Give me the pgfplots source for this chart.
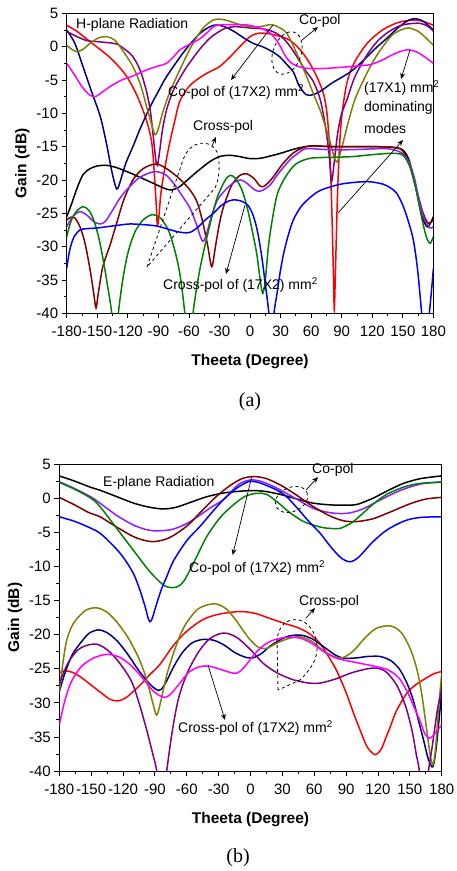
\documentclass[border=0pt]{standalone}
\usepackage{pgfplots}
\pgfplotsset{compat=1.18}
\usepackage{fontspec}
\setmainfont{Liberation Sans}
\newfontfamily\seriffont{Liberation Serif}
\usetikzlibrary{arrows.meta}

\definecolor{cred}{RGB}{255,0,0}
\definecolor{cnavy}{RGB}{0,0,128}
\definecolor{cpurple}{RGB}{128,0,128}
\definecolor{colive}{RGB}{128,128,0}
\definecolor{cmag}{RGB}{255,0,255}
\definecolor{cmaroon}{RGB}{128,0,0}
\definecolor{cviolet}{RGB}{140,30,255}
\definecolor{cgreen}{RGB}{0,128,0}
\definecolor{cblue}{RGB}{0,0,255}

\pgfplotsset{
  myaxis/.style={
    scale only axis,
    xmin=-180, xmax=180, ymin=-40, ymax=5,
    xtick={-180,-150,...,180}, ytick={-40,-35,...,5},
    minor x tick num=1, minor y tick num=1,
    tick align=outside, tick pos=left,
    major tick length=5pt, minor tick length=3pt,
    tick style={black, line width=0.8pt},
    axis line style={line width=0.8pt},
    clip mode=individual,
    /pgf/number format/assume math mode=true,
    tick label style={font=\fontsize{15}{17}\selectfont},
    xticklabel style={yshift=-4pt},
    label style={font=\bfseries\fontsize{15.5}{18}\selectfont},
    xlabel style={yshift=-11pt},
    xlabel={Theeta (Degree)}, ylabel={Gain (dB)},
  },
  cp/.style={smooth, line width=1.5pt},
}
\tikzset{ann/.style={font=\fontsize{14}{16}\selectfont, inner sep=0pt, anchor=west},
  arr/.style={-{Stealth[length=6pt,width=5pt]}, line width=0.7pt},
  dsh/.style={dashed, line width=0.8pt}}

\begin{document}
\begin{tikzpicture}
\path[use as bounding box] (0,0) rectangle (457pt,-871pt);

% ---------------- (a) H-plane ----------------
\begin{axis}[myaxis, at={(66.7pt,-313.3pt)}, anchor=south west, width=366.7pt, height=300pt]
% co-pol
\addplot[cp, cred] coordinates {(-180,3.2)(-170,2.3)(-160,1.1)(-150,-0.1)(-140,-1.3)(-130,-2.8)(-121,-4.5)(-112,-7)(-104,-10)(-99,-12.5)(-96,-15)(-94,-19)(-92,-24)(-91,-26.8)(-89.5,-25.5)(-87.5,-22)(-84,-18.5)(-79,-14.5)(-74,-11.2)(-69,-8.2)(-60,-6)(-49,-4.6)(-40,-3.8)(-30,-3)(-20,-1.6)(-10,0)(0,1.5)(8,2)(20,1.9)(36,1.2)(45,0.2)(52,-1)(59,-2.6)(65.5,-4.5)(72,-7)(75.5,-10)(78,-15)(80,-23)(82,-35)(82.7,-39.5)(83.8,-34)(85.5,-24)(87.5,-16)(90,-10.5)(95,-5.5)(102,-2.5)(115,0.5)(130,2.5)(145,3.6)(160,4)(170,3.8)(180,3.2)};
\addplot[cp, cnavy] coordinates {(-180,2.5)(-172,0.5)(-164,-3)(-155,-7)(-147,-10.5)(-141,-14.5)(-136,-18.5)(-132,-21)(-130,-21.3)(-127,-20)(-122,-17.5)(-115,-15)(-107,-12)(-98,-9)(-90,-6.7)(-82,-4.5)(-65,-0.8)(-49,2)(-36,3.2)(-25,3)(-15,2.2)(-6,1.3)(3,0.5)(12,0)(20,-0.6)(29,-1.5)(35,-2.5)(42.5,-3.8)(48,-5.8)(55,-7.2)(62,-7.2)(70,-6.6)(80,-5.5)(90,-4.6)(101,-3.5)(115,-1.5)(125,0)(134,1.2)(145,2.8)(155,3.9)(162,4.2)(170,3.8)(180,2.5)};
\addplot[cp, cpurple] coordinates {(-180,2.3)(-170,1.5)(-160,0.9)(-150,0.75)(-140,0.6)(-131,0.4)(-122,-0.5)(-115,-1.5)(-108,-3.5)(-102,-6.5)(-98,-9.5)(-95,-13.5)(-92.5,-17)(-91,-17.8)(-89,-16)(-86,-12.5)(-82,-9.5)(-76,-6.8)(-70,-5)(-62,-3)(-50,-0.5)(-40,1.2)(-33,2)(-25,2.7)(-15,3)(0,2.8)(10,2.7)(20,2.4)(30,1.6)(38,0.3)(46,-1.5)(54,-3.5)(62,-5.2)(69,-8)(74,-12)(77.5,-16)(80,-20.2)(82.5,-17.5)(86,-13)(90,-10)(95,-8)(103,-4.5)(115,-1.2)(125,0.8)(134,2)(145,3)(155,3.4)(167,3.5)(175,3)(180,2.3)};
\addplot[cp, colive] coordinates {(-180,0.2)(-175,-0.4)(-170,-0.75)(-164,-0.4)(-157,0.5)(-149,1.3)(-141,1.5)(-133,1)(-124,-0.8)(-115,-3)(-108,-5.5)(-101.5,-9)(-97,-11.5)(-93.3,-13.2)(-90,-12.3)(-86,-10)(-80,-7.3)(-75,-5.5)(-65,-2.2)(-56,0.5)(-46,2.8)(-36,4)(-28,4.1)(-20,3.8)(-10,3.3)(0,3)(10,3)(20,3.3)(27,3)(36,2)(45.8,-1)(55.6,-4.5)(62,-7)(68.7,-9.5)(74,-12)(78.5,-14.2)(82,-16.3)(85,-17.3)(88,-16.3)(92,-14)(97,-11)(104,-7.5)(118,-3)(128,-0.5)(140,1.8)(150,2.6)(156,2.8)(165,2.3)(172,1.4)(180,0.2)};
\addplot[cp, cmag] coordinates {(-180,-2.5)(-172,-4.3)(-165,-6)(-158,-7.2)(-152,-7.5)(-145,-6.8)(-137.5,-6)(-126,-5)(-115,-4.4)(-100,-3.4)(-90,-2.9)(-82,-2.5)(-75,-1.5)(-69,-0.5)(-60,0.3)(-49,1.2)(-40,2.4)(-36,3.0)(-28,3.3)(-18,3.3)(-3,3.25)(10,2.8)(20,2)(28,0.5)(35,-1.5)(42,-2.6)(50,-3.1)(60,-3.3)(75,-3.25)(90,-3.1)(105,-2.9)(118,-2.7)(130,-2.0)(140,-1.2)(150,-0.6)(157,-0.5)(165,-0.9)(172,-1.6)(180,-2.5)};
% cross-pol
\addplot[cp, black] coordinates {(-180,-25.5)(-175,-23.5)(-170,-21.3)(-164,-19.2)(-157,-18.3)(-150,-17.9)(-141,-17.8)(-132,-18.1)(-120,-18.8)(-108,-19.6)(-95,-20.5)(-85,-21.2)(-78,-21.5)(-70,-21.1)(-60,-19.8)(-52,-18.75)(-40,-17.3)(-30,-16.5)(-20,-16.3)(-10,-16.5)(0,-16.8)(10,-16.75)(20,-16.4)(30,-16)(45,-15.3)(60,-14.9)(80,-15)(100,-15)(120,-15)(140,-15.1)(150,-15.5)(156,-17)(162,-20.5)(168,-25)(173.5,-27)(177,-26.5)(180,-25.5)};
\addplot[cp, cmaroon] coordinates {(-180,-26)(-176,-25.6)(-172,-25.7)(-167,-27)(-162,-29.5)(-157,-33.5)(-153.5,-37)(-151.2,-39.2)(-149,-37)(-145,-33.3)(-141,-31.3)(-137.5,-29.8)(-131,-26.5)(-124,-23)(-115,-20)(-105,-18.3)(-92,-17.6)(-80,-18.5)(-68,-20)(-59,-21.5)(-52,-23.3)(-47,-26)(-42,-29.5)(-37.6,-33)(-34,-30)(-30,-26.5)(-26,-24)(-18,-20.8)(-10,-19.3)(-3,-19.1)(4,-19.8)(9,-20.8)(13,-21)(18,-20.4)(23,-19.5)(32,-17.6)(42,-16)(50,-15.3)(59,-14.9)(80,-15)(120,-15)(145,-15.2)(152,-16.2)(158,-18.5)(164,-21.8)(170,-25)(175,-26.5)(180,-26)};
\addplot[cp, cviolet] coordinates {(-180,-27)(-174,-25.5)(-167,-24.75)(-160,-25.3)(-153,-26.3)(-147,-26.6)(-142,-26.2)(-136,-24.8)(-128,-22.8)(-120,-21.3)(-110,-19.8)(-100,-19)(-92,-18.75)(-83,-19.2)(-75,-20.5)(-67,-22.3)(-59,-24.2)(-53,-26.5)(-48.5,-28.6)(-46,-29.2)(-43,-28.3)(-38,-25.5)(-32,-23)(-23,-21.3)(-15,-20.3)(-9,-20)(-3,-20.5)(3,-21.3)(8,-21.7)(13,-21.5)(20,-20.7)(28,-19)(39,-17)(48,-15.9)(55,-15.3)(70,-15.4)(85,-15.5)(110,-15.4)(134,-15.3)(147,-15.8)(155,-17)(161,-19.5)(166,-23)(171,-25.8)(176.5,-27.2)(180,-27)};
\addplot[cp, cgreen] coordinates {(-180,-28.5)(-176,-26.3)(-171,-24.8)(-164,-24)(-158,-24.6)(-153,-26.2)(-148,-29)(-143,-33)(-139,-36.7)(-135.8,-40)(-132.5,-46)(-129.3,-40)(-125,-35)(-120,-31)(-113,-27.8)(-105,-26)(-96,-25.2)(-88,-25.7)(-80,-27.6)(-74,-30.5)(-69,-34)(-64,-40)(-60,-47)(-56,-40)(-50,-34)(-43,-29)(-33,-23)(-25,-20.2)(-19.6,-19.3)(-14,-19.8)(-8,-21.5)(-3,-24)(2,-27.5)(6.5,-31)(10,-35)(12.5,-37)(15,-35)(18,-30)(22,-25.8)(27,-22)(35,-19.5)(45,-17.6)(59,-16.75)(80,-16.6)(100,-16.5)(120,-16.2)(140,-16)(150,-16.3)(157,-18)(163,-21.5)(169,-26)(173,-28.5)(176.7,-29.5)(180,-28.5)};
\addplot[cp, cblue] coordinates {(-180,-33.25)(-177,-30.5)(-173,-28.6)(-167,-27.5)(-160,-27.3)(-150,-27.2)(-140,-27)(-130,-26.8)(-118,-26.6)(-105,-26.7)(-92,-26.9)(-80,-27.4)(-70,-27.8)(-60,-27.9)(-52,-27.2)(-44,-26)(-36,-25)(-28,-23.8)(-20,-23.1)(-14,-23)(-8,-23.2)(-2,-23.8)(3,-25.3)(7,-27.5)(11,-31)(14.5,-35)(18.5,-40)(21,-45)(23.5,-40)(26.5,-37)(29.4,-34)(33,-31)(37.5,-28.3)(42.5,-26)(50,-24)(60,-22.5)(70,-21.5)(90,-20.6)(114.5,-20.25)(130,-20.6)(138,-21.2)(144,-22)(150,-23.8)(155,-26)(160.3,-29)(164.5,-33.5)(168.5,-40)(172,-46)(176,-40)(178.2,-36.5)(180,-33.25)};
\end{axis}

% ---------------- (b) E-plane ----------------
\begin{axis}[myaxis, at={(59.3pt,-771pt)}, anchor=south west, width=382.4pt, height=306.7pt]
% co-pol
\addplot[cp, black] coordinates {(-180,3.3)(-165,2.5)(-150,1.6)(-141.7,1.2)(-125,0.2)(-110,-0.7)(-95,-1.3)(-82,-1.55)(-70,-1.3)(-55,-0.5)(-41,0.25)(-25,0.8)(-10,1.05)(2.7,1.15)(15,1)(30,0.5)(45,-0.15)(59,-0.7)(75,-0.95)(90,-1)(100,-0.9)(115,0)(130,1.2)(144,2.2)(160,2.9)(180,3.3)};
\addplot[cp, cviolet] coordinates {(-180,2.45)(-165,1.4)(-150,0.2)(-141.7,-0.7)(-125,-2.6)(-110.3,-3.9)(-100,-4.5)(-91.5,-4.75)(-80,-4.7)(-72.6,-4.5)(-60,-3.7)(-48,-2.5)(-37,-1.3)(-25.6,-0.2)(-17,1.2)(-9.8,2.2)(0,2.7)(10,2.5)(25,1.5)(40,0.2)(59,-1.45)(75,-2.1)(90.6,-2.2)(105,-1.6)(120,-0.4)(140,1.1)(160,2.1)(180,2.45)};
\addplot[cp, cmaroon] coordinates {(-180,0.15)(-165,-1.0)(-152,-2.1)(-141.7,-2.7)(-125,-4.3)(-110.3,-5.6)(-100,-6.15)(-91.5,-6.35)(-80,-6)(-70,-5.2)(-58,-3.8)(-45,-1.7)(-32,0.3)(-20,1.8)(-8,2.9)(2.7,3.2)(15,2.9)(30,1.8)(45,0.3)(59,-1.2)(75,-2.6)(88,-3.3)(100,-3.4)(115,-3)(130,-2.1)(150,-0.8)(165,-0.1)(180,0.15)};
\addplot[cp, cgreen] coordinates {(-180,2.35)(-165,1.3)(-150,0)(-141.7,-1.2)(-125,-4.6)(-110.3,-7.6)(-95,-10.7)(-82,-12.7)(-74,-13.1)(-68,-12.9)(-63,-12.2)(-56.9,-10.5)(-48,-7.7)(-41.2,-5.6)(-33,-3.7)(-25.6,-2.3)(-15,-0.8)(-5,0.3)(5.9,0.75)(15,0.6)(25,-0.5)(37.2,-2.1)(50,-3.4)(65.5,-4.2)(75,-4.4)(84.3,-4.4)(95,-3.6)(105,-2.3)(115,-0.9)(128.3,0.6)(145,1.7)(160,2.2)(180,2.35)};
\addplot[cp, cblue] coordinates {(-180,-2.7)(-165,-3.4)(-150,-4.4)(-141.7,-5.1)(-130,-6.8)(-120,-8.6)(-110.3,-11)(-104,-13.5)(-99,-16)(-96.5,-17.5)(-94.6,-18.1)(-92.5,-17.6)(-89,-15.8)(-84,-13.4)(-78.9,-11.5)(-72.6,-9.2)(-60,-6.2)(-47.5,-4.1)(-36,-2)(-25.6,-0.2)(-13,1.5)(-2,2.45)(6,2.4)(15,1.9)(25,1.2)(34,0.25)(45,-1.6)(55,-3.4)(65.5,-5.1)(75,-7)(85,-8.7)(93.7,-9.3)(102,-8.6)(115,-6.4)(128.3,-4.65)(145,-3.3)(159.6,-2.8)(180,-2.7)};
% cross-pol
\addplot[cp, cred] coordinates {(-180,-25.6)(-175,-25.3)(-168,-25.5)(-160,-26.2)(-150,-27.4)(-140,-28.6)(-132,-29.5)(-124.4,-29.7)(-116,-29.1)(-104,-27.4)(-95,-25.9)(-85,-24.3)(-72.7,-21.6)(-60,-19.5)(-45,-17.8)(-30,-17)(-10,-16.6)(5,-16.9)(21.5,-17.8)(35,-18.5)(43.5,-18.9)(55,-19.8)(65.6,-21.3)(75,-23.6)(81.2,-25.3)(90,-28.5)(97,-31.5)(103.2,-34)(110,-36.5)(117.3,-37.6)(123,-36.8)(127,-35.3)(131.4,-33.6)(137,-31.3)(147.1,-28.6)(156,-27.3)(166,-26.3)(173,-25.7)(180,-25.4)};
\addplot[cp, cnavy] coordinates {(-180,-28.35)(-175,-25.8)(-168,-23)(-160,-21.2)(-152,-19.8)(-143.3,-19.3)(-135,-19.7)(-125,-21)(-115,-23)(-105,-25.3)(-95,-27.2)(-88,-28.1)(-84,-28)(-79,-26.8)(-72,-24.6)(-64,-22.6)(-55,-21.2)(-45,-20.7)(-35,-20.8)(-25,-21.5)(-15,-22.6)(-5,-23.3)(2,-23.4)(10,-22.8)(20,-21.5)(34,-20.3)(46.6,-20.05)(58,-20.6)(70,-21.9)(80,-23)(88,-23.45)(100,-23.4)(110,-23.2)(122,-23.2)(132,-23.8)(140,-25)(147,-27)(153,-29.5)(158,-32.5)(163,-35.5)(167.5,-38.3)(171.6,-39.4)(174.5,-37)(177.5,-32.5)(180,-28.35)};
\addplot[cp, colive] coordinates {(-180,-28.5)(-176.5,-24)(-173,-20.8)(-168,-18.7)(-163.6,-17.7)(-155,-16.4)(-145,-16.05)(-135,-16.7)(-125,-18.3)(-115,-20.5)(-105,-23.5)(-97.7,-26.6)(-92,-30)(-88.3,-31.8)(-84.5,-29.8)(-79,-26)(-72,-22.5)(-66,-20)(-60,-18.2)(-50,-16.3)(-40,-15.6)(-31.8,-15.5)(-23,-16.2)(-14,-17.8)(-6,-19.6)(0,-20.8)(7,-21.8)(15.3,-22)(24,-21.3)(35,-20.6)(46.6,-20.3)(58,-21)(70,-22.5)(84.3,-23.45)(96,-22.5)(107,-20.6)(118,-19.1)(131.4,-18.7)(142,-19.7)(151,-22.3)(157,-25.3)(161.5,-29)(165.5,-33.5)(169,-37.5)(171.6,-39.1)(174,-37)(177,-31)(180,-25.7)};
\addplot[cp, cpurple] coordinates {(-180,-27.2)(-172,-24.2)(-163,-22.3)(-155,-21.6)(-144.8,-21.4)(-135,-22.2)(-125,-23.8)(-115,-26)(-110,-27.6)(-104,-30.5)(-97.7,-34)(-92,-37.5)(-88.3,-40)(-84,-46)(-78.9,-40)(-74,-34.5)(-68,-29.5)(-60,-25.8)(-50,-22.8)(-40,-20.8)(-30,-19.9)(-22,-19.8)(-12,-20.5)(0,-22.2)(12,-24.2)(25,-25.6)(40,-26.6)(55,-27.1)(65.5,-27.1)(80,-26.5)(95,-25.6)(110,-25)(118.9,-24.9)(128,-25.5)(138,-27.5)(146,-30.5)(152,-34)(156,-37.5)(159,-40)(163,-46)(167.5,-40)(171,-36.5)(176,-31)(180,-28.1)};
\addplot[cp, cmag] coordinates {(-180,-33.25)(-175,-29.8)(-169,-27)(-160,-24.8)(-150,-23.6)(-140,-23)(-132.3,-22.9)(-122,-23.4)(-112,-24.6)(-102,-26.3)(-92,-28.2)(-86,-28.9)(-80.5,-29.2)(-75,-28.7)(-67,-27.2)(-58,-25.5)(-48,-24.7)(-39.7,-24.6)(-30,-25)(-20,-25.5)(-13,-25.65)(-6,-24.8)(3,-23)(12,-21.6)(21.5,-20.8)(33,-20.4)(46.6,-20.5)(58,-21.3)(70,-22.6)(80,-23.4)(87.4,-23.7)(100,-24.1)(118.9,-24.7)(130,-25.2)(140,-26.4)(148,-28.5)(155,-31)(160,-32.8)(164,-34.5)(168.4,-35.2)(172,-34.8)(176,-34)(180,-33.25)};
\end{axis}

% ---------------- annotations ----------------
\begin{scope}[x=1pt, y=-1pt]
% (a)
\node[ann] at (76,25) {H-plane Radiation};
\node[ann] at (299,21) {Co-pol};
\draw[dsh, rotate around={-20:(287,53)}] (287,53) ellipse [x radius=14, y radius=22];
\draw[arr] (302,40) -- (318,27);
\draw[arr] (273,25) -- (231,80);
\node[ann] at (168,92) {Co-pol of (17X2) mm\textsuperscript{2}};
\node[ann] at (364,88) {(17X1) mm\textsuperscript{2}};
\node[ann] at (364,108) {dominating};
\node[ann] at (364,128) {modes};
\draw[arr] (410,50) -- (401,79);
\draw[arr] (338,213) -- (403,140);
\node[ann] at (193,127) {Cross-pol};
\draw[dsh] (147,267) -- (183,160) .. controls (190,140) and (210,138) .. (217,152) .. controls (221,165) and (219,180) .. (215,188) -- cycle;
\draw[arr] (212,146) -- (216,137);
\node[ann] at (163,285) {Cross-pol of (17X2) mm\textsuperscript{2}};
\draw[arr] (245,205) -- (226,274);
\node[font=\seriffont\fontsize{20}{22}\selectfont] at (250,402) {(a)};
% (b)
\node[ann] at (103,483) {E-plane Radiation};
\node[ann] at (312,470) {Co-pol};
\draw[dsh, rotate around={25:(291.5,499.5)}] (291.5,499.5) ellipse [x radius=17, y radius=12];
\draw[arr] (306,490) -- (318,477);
\draw[arr] (251.7,476.7) -- (232.7,555);
\node[ann] at (189,568) {Co-pol of (17X2) mm\textsuperscript{2}};
\node[ann] at (299,602) {Cross-pol};
\draw[dsh] (278,690) -- (277,640) .. controls (279,612) and (313,612) .. (317,645) .. controls (318,660) and (310,670) .. (300,680) -- cycle;
\draw[arr] (306,618) -- (315,608);
\node[ann] at (178,728) {Cross-pol of (17X2) mm\textsuperscript{2}};
\draw[arr] (208,665) -- (225,720);
\node[font=\seriffont\fontsize{20}{22}\selectfont] at (238,858) {(b)};
\end{scope}
\end{tikzpicture}
\end{document}
